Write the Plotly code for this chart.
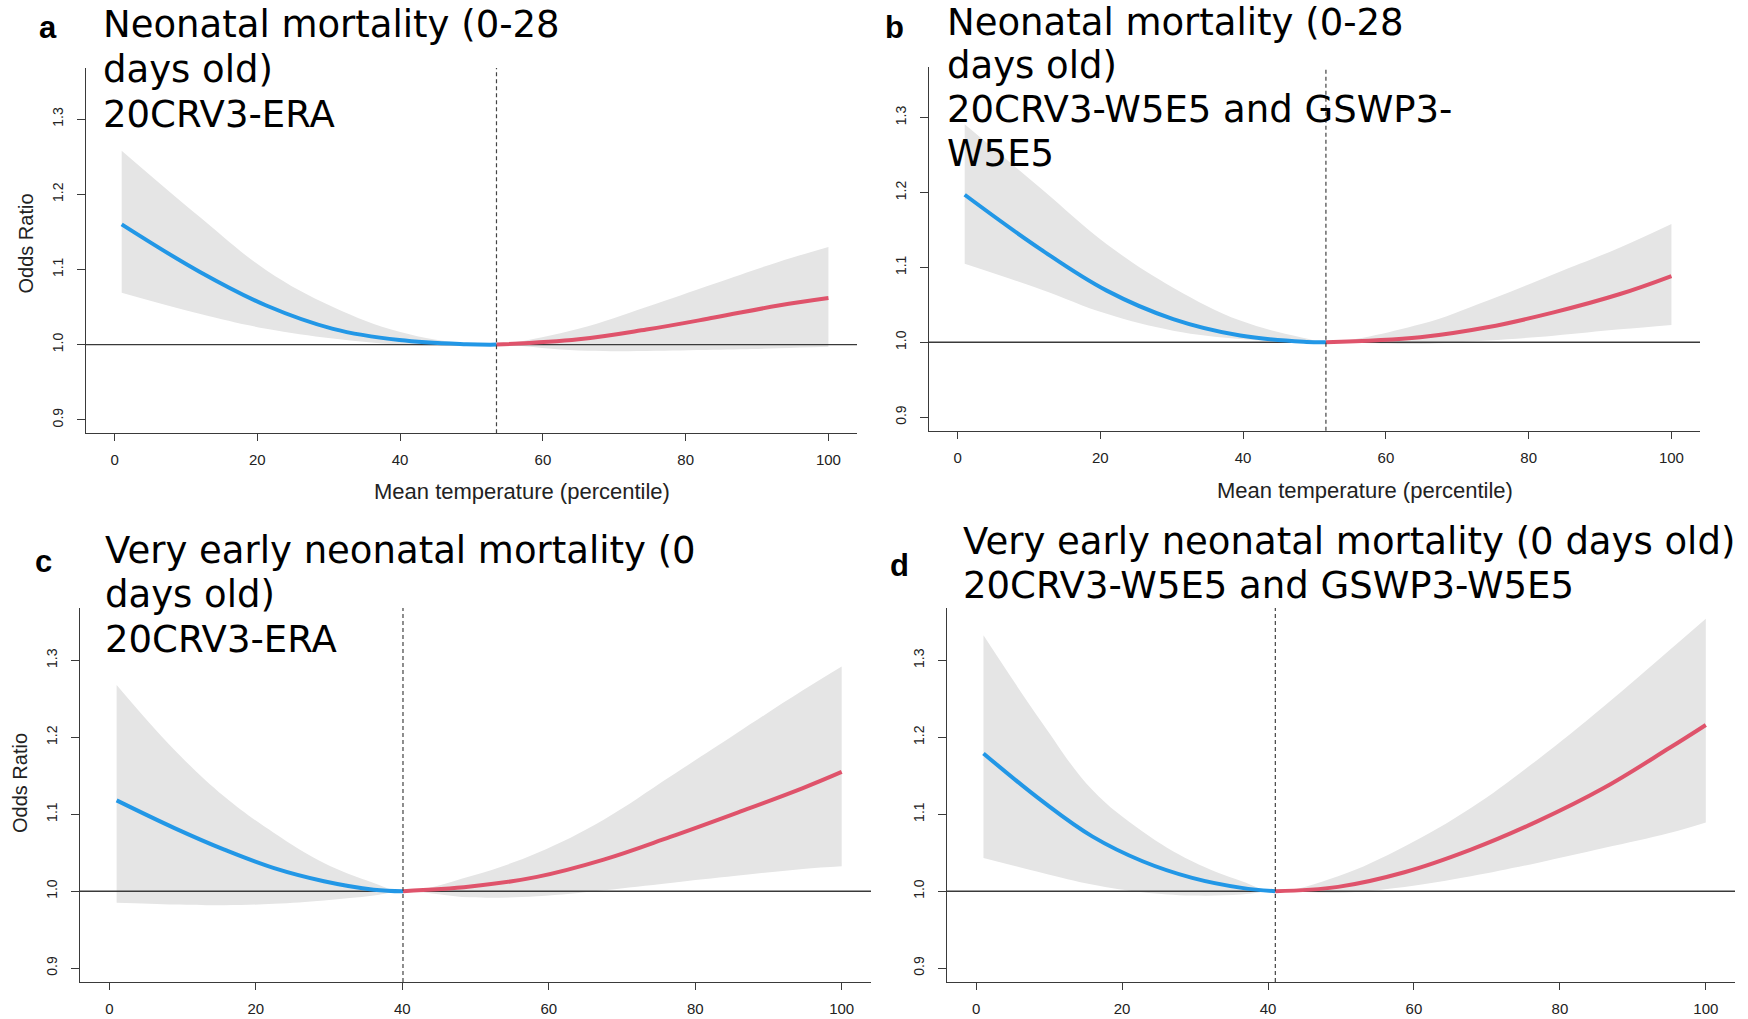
import plotly.graph_objects as go

W, H = 1748, 1019

# ---------------- data ----------------
X_RANGE = [-4, 104]
Y_RANGE = [0.882, 1.368]
X_TICKS = [0, 20, 40, 60, 80, 100]
Y_TICKS = [0.9, 1.0, 1.1, 1.2, 1.3]

# panel a
a_cen = 53.5
a_cold_x = [1, 11.9, 21.25, 30.6, 39.9, 49.3, 53.5]
a_cold_fit = [1.160, 1.097, 1.052, 1.021, 1.006, 1.0005, 1.0]
a_cold_low = [1.069, 1.041, 1.021, 1.008, 1.000, 0.9985, 1.0]
a_cold_high = [1.258, 1.170, 1.099, 1.050, 1.017, 1.001, 1.0]
a_hot_x = [53.5, 65, 74.5, 84, 93, 100]
a_hot_fit = [1.0, 1.007, 1.020, 1.036, 1.052, 1.062]
a_hot_low = [1.0, 0.992, 0.9915, 0.993, 0.995, 0.997]
a_hot_high = [1.0, 1.021, 1.050, 1.081, 1.110, 1.130]

# panel b
b_cen = 51.6
b_cold_x = [1, 11.6, 20.9, 30.2, 39.6, 48.9, 51.6]
b_cold_fit = [1.197, 1.1245, 1.069, 1.031, 1.009, 1.0005, 1.0]
b_cold_low = [1.105, 1.071, 1.038, 1.0156, 1.0045, 0.9995, 1.0]
b_cold_high = [1.291, 1.206, 1.131, 1.073, 1.029, 1.005, 1.0]
b_hot_x = [51.6, 64.8, 74.2, 83.5, 92.8, 100]
b_hot_fit = [1.0, 1.0067, 1.020, 1.040, 1.0645, 1.0885]
b_hot_low = [1.0, 0.9978, 1.0023, 1.0089, 1.0173, 1.0232]
b_hot_high = [1.0, 1.024, 1.0556, 1.091, 1.1267, 1.158]

# panel c
c_cen = 40.1
c_cold_x = [1, 8.9, 15.7, 22.5, 29.3, 36.1, 40.1]
c_cold_fit = [1.118, 1.082, 1.054, 1.030, 1.013, 1.002, 1.0]
c_cold_low = [0.985, 0.9827, 0.9818, 0.9836, 0.988, 0.9944, 1.0]
c_cold_high = [1.268, 1.1835, 1.123, 1.0756, 1.0367, 1.0108, 1.0]
c_hot_x = [40.1, 49.3, 58.4, 67.5, 76.6, 85.6, 94.7, 100]
c_hot_fit = [1.0, 1.006, 1.0186, 1.041, 1.0705, 1.1015, 1.134, 1.155]
c_hot_low = [1.0, 0.992, 0.9935, 1.0013, 1.0108, 1.020, 1.029, 1.0324]
c_hot_high = [1.0, 1.0194, 1.0497, 1.093, 1.149, 1.205, 1.261, 1.292]

# panel d
d_cen = 41.0
d_cold_x = [1, 9.1, 15.9, 22.8, 29.6, 36.4, 41.0]
d_cold_fit = [1.179, 1.1166, 1.0712, 1.0389, 1.0173, 1.0043, 1.0]
d_cold_low = [1.0432, 1.0238, 1.0087, 0.9987, 0.9944, 0.9957, 1.0]
d_cold_high = [1.3325, 1.218, 1.1317, 1.0777, 1.0389, 1.013, 1.0]
d_hot_x = [41.0, 49.6, 58.7, 67.8, 76.9, 86.0, 95.0, 100]
d_hot_fit = [1.0, 1.0056, 1.0246, 1.054, 1.0907, 1.134, 1.186, 1.216]
d_hot_low = [1.0, 0.998, 1.0056, 1.0194, 1.0367, 1.056, 1.0756, 1.0894]
d_hot_high = [1.0, 1.0194, 1.058, 1.108, 1.1706, 1.240, 1.313, 1.354]

panel_letters = ["a", "b", "c", "d"]
panel_titles = [
    ["Neonatal mortality (0-28", "days old)", "20CRV3-ERA"],
    ["Neonatal mortality (0-28", "days old)", "20CRV3-W5E5 and GSWP3-", "W5E5"],
    ["Very early neonatal mortality (0", "days old)", "20CRV3-ERA"],
    ["Very early neonatal mortality (0 days old)", "20CRV3-W5E5 and GSWP3-W5E5"],
]
x_title = "Mean temperature (percentile)"
y_title = "Odds Ratio"

# ---------------- layout (pixels) ----------------
# plot boxes: (left, right, top, bottom)
boxes = [(86, 857, 68, 433.3), (929, 1700, 66.7, 430.7),
         (80, 871, 608, 982), (947, 1735, 608, 982)]
title_left = [101, 945, 103, 961]
title_centers = [[24.5, 69.2, 114.5], [22, 65.5, 109.5, 153.5],
                 [550, 594, 639], [541, 585.5]]
letter_pos = [(47.5, 27.6), (894.5, 27.6), (43.3, 561), (899, 565)]
show_xtitle = [True, True, False, False]
xtitle_pos = [(521.5, 491.5), (1365, 490.5)]
show_ytitle = [True, False, True, False]
ytitle_pos = [(25, 243.5), None, (20, 783), None]

BLUE = "#2297E6"
RED = "#DF536B"
BAND = "#E5E5E5"
AX = "#3a3a3a"
RFONT = "Liberation Sans, Arial, sans-serif"
TFONT = "DejaVu Sans, sans-serif"
SMOOTH = 1.1

panels = [
    (a_cen, a_cold_x, a_cold_fit, a_cold_low, a_cold_high, a_hot_x, a_hot_fit, a_hot_low, a_hot_high),
    (b_cen, b_cold_x, b_cold_fit, b_cold_low, b_cold_high, b_hot_x, b_hot_fit, b_hot_low, b_hot_high),
    (c_cen, c_cold_x, c_cold_fit, c_cold_low, c_cold_high, c_hot_x, c_hot_fit, c_hot_low, c_hot_high),
    (d_cen, d_cold_x, d_cold_fit, d_cold_low, d_cold_high, d_hot_x, d_hot_fit, d_hot_low, d_hot_high),
]

fig = go.Figure()
shapes = []
annotations = []
layout = dict(width=W, height=H, margin=dict(l=0, r=0, t=0, b=0),
              paper_bgcolor="white", plot_bgcolor="white", showlegend=False)


def px_x(v):
    return v / W


def px_y(v):
    return 1 - v / H


for i, (cen, cx, cf, cl, ch, hx, hf, hl, hh) in enumerate(panels):
    n = "" if i == 0 else str(i + 1)
    xa, ya = "x" + n, "y" + n
    band_x = cx + hx[1:]
    band_low = cl + hl[1:]
    band_high = ch + hh[1:]
    common = dict(xaxis=xa, yaxis=ya, hoverinfo="skip", showlegend=False)
    fig.add_trace(go.Scatter(x=band_x, y=band_low, mode="lines",
                             line=dict(width=0, shape="spline", smoothing=SMOOTH), **common))
    fig.add_trace(go.Scatter(x=band_x, y=band_high, mode="lines", fill="tonexty",
                             fillcolor=BAND,
                             line=dict(width=0, shape="spline", smoothing=SMOOTH), **common))
    fig.add_trace(go.Scatter(x=X_RANGE, y=[1.0, 1.0], mode="lines",
                             line=dict(color=AX, width=1.4), **common))
    fig.add_trace(go.Scatter(x=cx, y=cf, mode="lines",
                             line=dict(color=BLUE, width=4, shape="spline", smoothing=SMOOTH), **common))
    fig.add_trace(go.Scatter(x=hx, y=hf, mode="lines",
                             line=dict(color=RED, width=4, shape="spline", smoothing=SMOOTH), **common))
    shapes.append(dict(type="line", xref=xa, yref=ya + " domain", x0=cen, x1=cen, y0=0, y1=1,
                       line=dict(color="#444", width=1.2, dash="4px,3px"), layer="above"))

    l, r, t, b = boxes[i]
    layout["xaxis" + n] = dict(
        domain=[px_x(l), px_x(r)], range=X_RANGE, anchor=ya, tickvals=X_TICKS,
        ticks="outside", ticklen=7, tickwidth=1, tickcolor=AX,
        showline=True, linecolor=AX, linewidth=1.2, mirror=False,
        showgrid=False, zeroline=False, automargin=False, fixedrange=True,
        tickfont=dict(family=RFONT, size=15, color="#222"), ticklabelstandoff=6)
    layout["yaxis" + n] = dict(
        domain=[px_y(b), px_y(t)], range=Y_RANGE, anchor=xa, tickvals=Y_TICKS,
        tickformat=".1f", tickangle=-90,
        ticks="outside", ticklen=8, tickwidth=1, tickcolor=AX,
        showline=True, linecolor=AX, linewidth=1.2, mirror=False,
        showgrid=False, zeroline=False, automargin=False, fixedrange=True,
        tickfont=dict(family=RFONT, size=14, color="#222"), ticklabelstandoff=8)

    # titles
    for line_text, yc in zip(panel_titles[i], title_centers[i]):
        annotations.append(dict(text=line_text, xref="paper", yref="paper",
                                x=px_x(title_left[i]), y=px_y(yc), xanchor="left", yanchor="middle",
                                showarrow=False, font=dict(family=TFONT, size=37, color="black")))
    lx, ly = letter_pos[i]
    annotations.append(dict(text="<b>" + panel_letters[i] + "</b>", xref="paper", yref="paper",
                            x=px_x(lx), y=px_y(ly), xanchor="center", yanchor="middle",
                            showarrow=False, font=dict(family=RFONT, size=31, color="black")))
    if show_xtitle[i]:
        tx, ty = xtitle_pos[i]
        annotations.append(dict(text=x_title, xref="paper", yref="paper",
                                x=px_x(tx), y=px_y(ty), xanchor="center", yanchor="middle",
                                showarrow=False, font=dict(family=RFONT, size=22, color="#222")))
    if show_ytitle[i]:
        tx, ty = ytitle_pos[i]
        annotations.append(dict(text=y_title, xref="paper", yref="paper", textangle=-90,
                                x=px_x(tx), y=px_y(ty), xanchor="center", yanchor="middle",
                                showarrow=False, font=dict(family=RFONT, size=20, color="#222")))

layout["shapes"] = shapes
layout["annotations"] = annotations
fig.update_layout(**layout)
fig.write_html("out.html")
